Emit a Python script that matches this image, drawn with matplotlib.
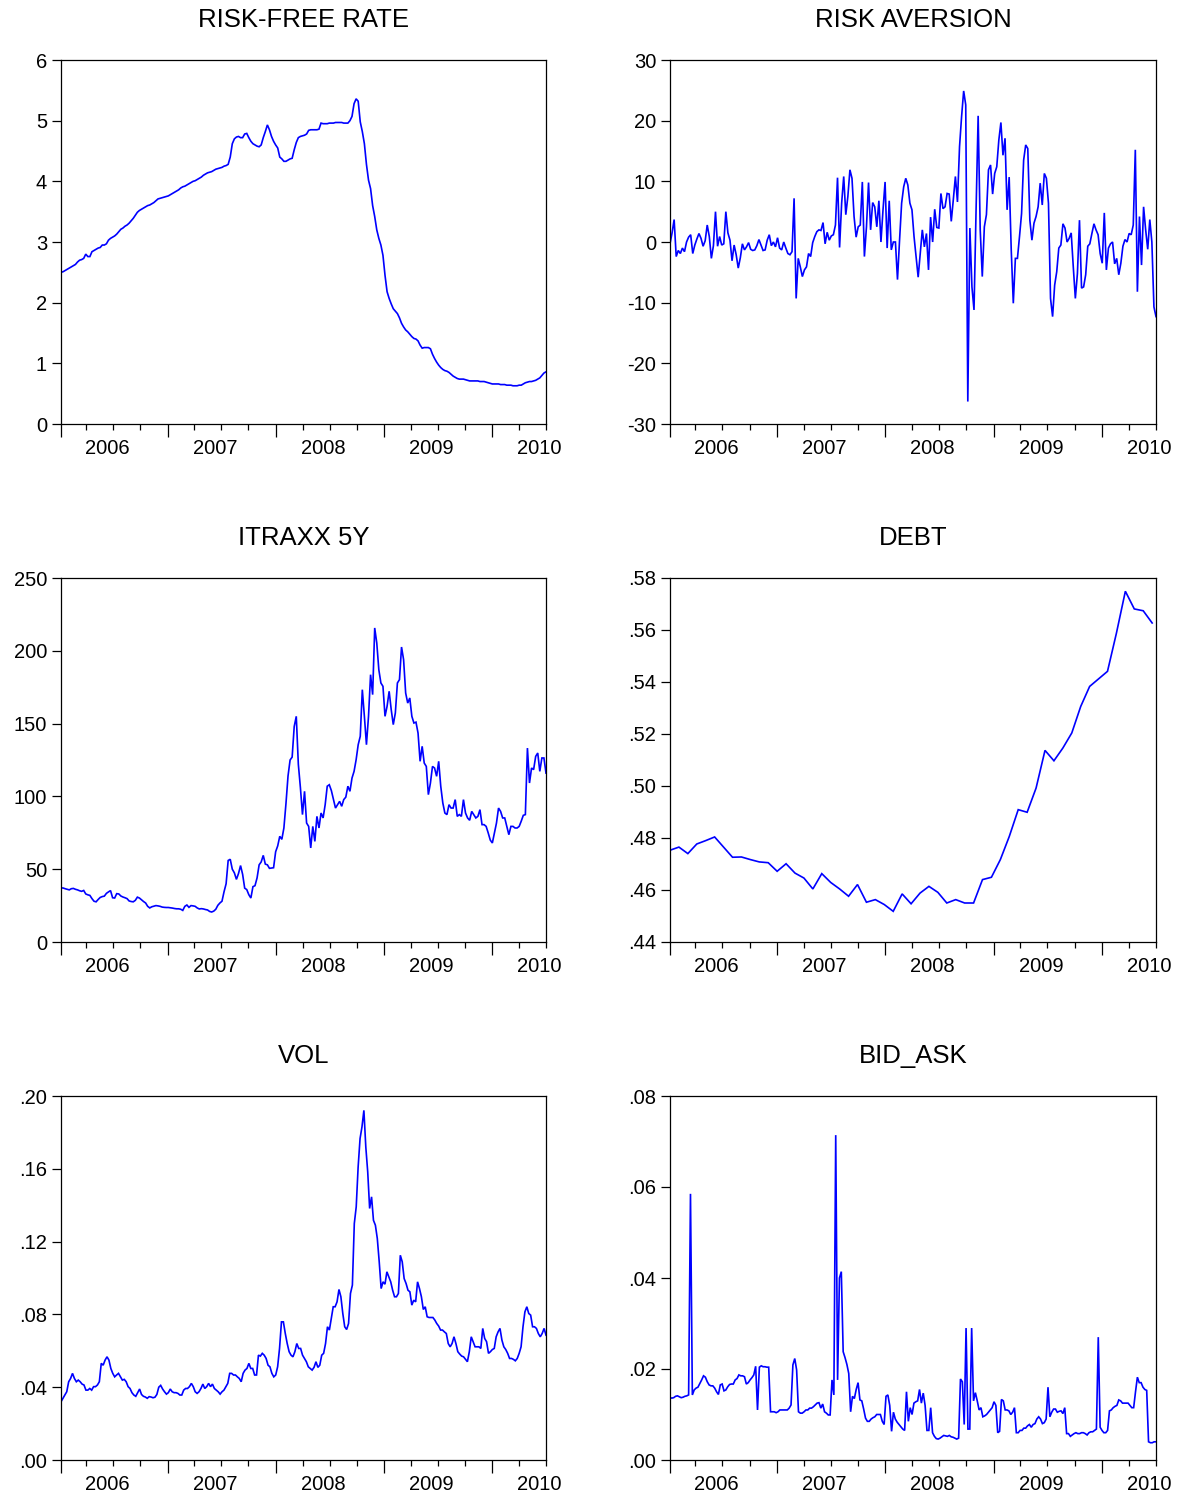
import numpy as np
import pandas as pd
import matplotlib
matplotlib.use("Agg")
import matplotlib.pyplot as plt
import matplotlib.dates as mdates
import matplotlib.transforms as mtrans
from matplotlib.ticker import FixedLocator, FuncFormatter, NullFormatter

plt.rcParams['font.family'] = ['Liberation Sans', 'DejaVu Sans']

# ---------------- data ----------------
START = '2006-01-06'
END = '2010-07-02'
DEBT_END = '2010-06-19'

risk_free = [
    2.50, 2.51, 2.53, 2.55, 2.57, 2.59, 2.61, 2.63, 2.67, 2.70, 2.71, 2.73, 2.80,
    2.76, 2.76, 2.84, 2.86, 2.88, 2.90, 2.91, 2.95, 2.95, 2.97, 3.03, 3.06, 3.08,
    3.10, 3.13, 3.17, 3.21, 3.23, 3.26, 3.28, 3.31, 3.35, 3.39, 3.44, 3.49, 3.52,
    3.54, 3.56, 3.58, 3.60, 3.61, 3.63, 3.65, 3.68, 3.71, 3.72, 3.73, 3.74, 3.75,
    3.76, 3.78, 3.80, 3.82, 3.84, 3.86, 3.89, 3.91, 3.92, 3.94, 3.96, 3.98, 4.00,
    4.01, 4.03, 4.05, 4.07, 4.10, 4.12, 4.14, 4.15, 4.16, 4.18, 4.20, 4.21, 4.22,
    4.23, 4.25, 4.26, 4.28, 4.40, 4.62, 4.70, 4.73, 4.74, 4.72, 4.72, 4.78, 4.79,
    4.72, 4.66, 4.62, 4.60, 4.58, 4.57, 4.60, 4.72, 4.82, 4.93, 4.85, 4.74, 4.66,
    4.60, 4.55, 4.40, 4.37, 4.33, 4.33, 4.35, 4.37, 4.38, 4.52, 4.64, 4.72, 4.74,
    4.75, 4.76, 4.78, 4.84, 4.85, 4.85, 4.85, 4.85, 4.86, 4.96, 4.95, 4.95, 4.95,
    4.96, 4.96, 4.96, 4.97, 4.97, 4.97, 4.97, 4.96, 4.96, 4.96, 5.00, 5.07, 5.28,
    5.36, 5.32, 4.98, 4.82, 4.62, 4.28, 4.02, 3.88, 3.60, 3.42, 3.20, 3.06, 2.95,
    2.78, 2.45, 2.18, 2.07, 1.98, 1.90, 1.86, 1.82, 1.75, 1.66, 1.60, 1.55, 1.52,
    1.48, 1.44, 1.41, 1.40, 1.37, 1.30, 1.25, 1.26, 1.26, 1.26, 1.24, 1.15, 1.08,
    1.02, 0.97, 0.93, 0.90, 0.88, 0.87, 0.85, 0.82, 0.79, 0.77, 0.75, 0.74, 0.74,
    0.74, 0.73, 0.72, 0.71, 0.71, 0.71, 0.71, 0.71, 0.70, 0.70, 0.70, 0.69, 0.68,
    0.67, 0.66, 0.66, 0.66, 0.66, 0.65, 0.65, 0.65, 0.64, 0.64, 0.64, 0.63, 0.63,
    0.63, 0.64, 0.64, 0.66, 0.68, 0.69, 0.70, 0.70, 0.71, 0.72, 0.74, 0.76, 0.80, 0.84, 0.86,
]

risk_aversion = [
    -0.3, 1.5, 3.7, -2.4, -1.4, -1.9, -1.0, -1.6, 0.0, 0.8,
    1.2, -1.9, -0.5, 0.5, 1.4, 0.6, -0.7, 0.2, 2.8, 0.9,
    -2.7, -0.6, 5.0, -0.7, 0.9, -0.5, -0.3, 5.0, 1.5, 0.3,
    -3.1, -0.5, -2.1, -4.3, -2.6, -0.3, -1.3, -0.8, -0.1, -1.2,
    -1.4, -1.3, -0.6, 0.4, -0.5, -1.4, -1.3, 0.3, 1.2, -0.6,
    0.0, -0.8, 0.7, -1.0, -1.3, 0.0, -1.0, -1.9, -2.1, -1.6,
    7.2, -9.3, -2.7, -4.1, -5.7, -4.6, -4.1, -1.9, -2.4, -0.1,
    0.9, 1.7, 2.0, 1.9, 3.2, -0.3, 1.6, 0.3, 1.0, 1.2,
    2.8, 10.6, -0.9, 6.4, 10.8, 4.5, 7.5, 11.9, 10.5, 4.2,
    0.8, 2.5, 2.8, 9.9, -2.4, 2.5, 9.8, 2.0, 6.5, 5.8,
    2.5, 6.8, 0.0, 5.3, 9.9, -1.0, 6.8, -1.3, 0.0, 0.0,
    -6.2, 0.3, 6.4, 9.1, 10.5, 9.4, 6.4, 5.3, 0.9, -2.4,
    -5.8, -1.9, 2.0, -0.8, 1.4, -4.6, 4.1, 0.0, 5.4, 2.4,
    2.3, 8.0, 5.5, 5.8, 8.0, 7.9, 3.4, 7.0, 10.8, 6.6,
    15.7, 20.7, 24.9, 22.6, -26.3, 2.3, -7.4, -11.2, 5.3, 20.8,
    2.0, -5.7, 2.5, 4.5, 11.9, 12.7, 7.9, 11.3, 12.4, 16.8,
    19.7, 14.3, 17.1, 5.3, 10.7, -1.3, -10.1, -2.7, -2.7, 0.9,
    4.7, 13.5, 16.0, 15.4, 3.6, 0.3, 3.1, 4.2, 5.8, 9.7,
    6.1, 11.3, 10.5, 6.4, -9.3, -12.3, -7.1, -4.9, -1.0, -0.5,
    3.0, 2.3, 0.0, 0.6, 1.5, -4.1, -9.3, -5.2, 3.6, -7.6,
    -7.4, -5.4, -0.7, -0.3, 1.4, 3.0, 2.0, 1.2, -1.9, -3.5,
    4.8, -4.6, -1.0, -0.3, 0.0, -3.6, -2.7, -5.4, -3.5, -0.7,
    0.4, 0.0, 1.4, 1.2, 2.8, 15.2, -8.2, 4.2, -3.8, 5.8,
    2.0, -1.2, 3.7, 0.0, -10.7, -12.3,
]

itraxx = [
    37.1, 37.1, 36.6, 36.2, 35.8, 36.6, 36.8, 36.2, 35.8, 35.2,
    34.8, 35.4, 33.0, 32.4, 32.0, 29.8, 28.0, 27.6, 29.2, 30.6,
    31.2, 31.5, 33.4, 34.4, 35.3, 30.4, 30.2, 33.2, 33.0, 31.6,
    30.9, 30.4, 29.8, 28.2, 27.8, 27.6, 28.6, 30.8, 30.2, 29.0,
    27.8, 26.8, 24.5, 23.4, 24.2, 24.6, 25.0, 24.8, 24.5, 24.0,
    23.8, 23.7, 23.7, 23.5, 23.3, 23.0, 22.8, 22.8, 22.5, 21.7,
    24.5, 25.4, 23.8, 25.0, 24.8, 24.5, 23.4, 22.7, 22.9, 22.7,
    22.3, 22.0, 21.0, 20.6, 21.2, 22.5, 25.2, 26.8, 28.0, 34.5,
    40.0, 56.0, 56.8, 50.0, 47.5, 43.0, 47.0, 52.5, 46.5, 37.0,
    36.0, 32.5, 30.2, 38.0, 38.7, 44.0, 53.0, 55.0, 59.5, 53.5,
    53.0, 50.6, 50.8, 51.0, 62.0, 66.0, 72.6, 70.5, 78.3, 95.0,
    114.0, 125.0, 127.0, 148.0, 155.0, 122.0, 106.0, 87.5, 103.5, 81.7,
    79.4, 64.6, 79.4, 69.1, 86.3, 78.3, 88.6, 85.2, 94.3, 107.0,
    108.0, 104.0, 98.0, 92.0, 94.3, 96.6, 93.2, 97.8, 99.5, 107.0,
    103.5, 112.6, 117.2, 125.2, 135.5, 141.3, 173.3, 155.0, 135.5, 155.0,
    183.6, 169.9, 215.7, 205.4, 187.0, 177.9, 175.6, 155.0, 161.9, 172.2,
    159.6, 149.3, 157.3, 177.9, 180.2, 202.6, 193.9, 171.0, 164.1, 167.6,
    155.0, 150.4, 151.0, 143.5, 124.1, 134.4, 122.9, 120.6, 101.2, 109.2,
    120.6, 119.5, 113.8, 124.1, 107.0, 95.5, 88.6, 87.5, 94.3, 92.0,
    92.0, 97.8, 86.3, 87.5, 86.3, 97.8, 88.6, 85.2, 83.6, 89.7,
    87.5, 85.2, 86.3, 90.9, 80.6, 80.6, 79.4, 74.9, 70.0, 68.0,
    74.9, 81.7, 92.0, 89.7, 85.2, 85.2, 79.4, 73.7, 79.4, 79.4,
    78.3, 78.3, 79.4, 83.0, 87.0, 87.5, 133.2, 109.2, 119.5, 118.4,
    127.5, 129.8, 117.2, 126.4, 126.4, 116.0,
]

debt = [
    .4753, .4765, .4740, .4777, .4790, .4804, .4765, .4726, .4727, .4717,
    .4708, .4705, .4672, .4701, .4665, .4646, .4604, .4663, .4629, .4604,
    .4576, .4621, .4553, .4563, .4544, .4518, .4585, .4547, .4588, .4614,
    .4591, .4550, .4563, .4550, .4550, .4640, .4649, .4717, .4806, .4909,
    .4899, .4992, .5137, .5097, .5146, .5204, .5306, .5383, .5412, .5441,
    .5588, .5749, .5681, .5674, .5627,
]

vol = [
    .0320, .0339, .0357, .0375, .0430, .0448, .0476, .0448, .0430, .0439,
    .0430, .0417, .0412, .0384, .0384, .0393, .0384, .0403, .0403, .0412,
    .0430, .0531, .0521, .0549, .0567, .0549, .0503, .0476, .0457, .0467,
    .0476, .0457, .0439, .0443, .0430, .0403, .0393, .0370, .0357, .0350,
    .0370, .0390, .0360, .0350, .0346, .0339, .0348, .0346, .0342, .0345,
    .0360, .0400, .0410, .0390, .0375, .0362, .0370, .0390, .0375, .0370,
    .0370, .0366, .0357, .0357, .0384, .0393, .0393, .0403, .0421, .0403,
    .0375, .0366, .0375, .0393, .0417, .0393, .0403, .0421, .0403, .0417,
    .0393, .0384, .0375, .0362, .0375, .0384, .0403, .0421, .0476, .0476,
    .0467, .0467, .0457, .0448, .0430, .0476, .0494, .0503, .0531, .0503,
    .0503, .0467, .0467, .0576, .0571, .0586, .0576, .0558, .0521, .0512,
    .0476, .0457, .0467, .0512, .0613, .0759, .0759, .0695, .0640, .0595,
    .0576, .0567, .0595, .0640, .0613, .0613, .0576, .0558, .0540, .0512,
    .0503, .0494, .0509, .0540, .0509, .0521, .0576, .0586, .0640, .0732,
    .0714, .0778, .0842, .0842, .0869, .0937, .0897, .0805, .0732, .0717,
    .0750, .0915, .0961, .1299, .1391, .1610, .1766, .1830, .1921, .1720,
    .1583, .1382, .1446, .1317, .1290, .1217, .1089, .0942, .0979, .0966,
    .1034, .1006, .0979, .0933, .0897, .0897, .0915, .1125, .1089, .0997,
    .0970, .0933, .0924, .0851, .0878, .0869, .0979, .0942, .0897, .0827,
    .0842, .0787, .0783, .0783, .0783, .0769, .0750, .0736, .0714, .0714,
    .0704, .0695, .0640, .0622, .0640, .0677, .0640, .0595, .0582, .0571,
    .0567, .0553, .0540, .0595, .0677, .0650, .0622, .0622, .0622, .0613,
    .0723, .0668, .0650, .0586, .0595, .0607, .0613, .0677, .0704, .0723,
    .0659, .0622, .0607, .0586, .0558, .0558, .0553, .0545, .0558, .0586,
    .0622, .0732, .0814, .0842, .0805, .0796, .0732, .0732, .0723, .0695,
    .0677, .0695, .0723, .0686,
]

bid_ask = [
    .0137, .0136, .0137, .0140, .0141, .0139, .0137, .0138, .0140, .0141, .0143,
    .0585, .0143,
    .0154, .0158, .0160, .0168, .0176, .0185, .0182, .0172, .0165, .0163, .0163,
    .0158, .0150, .0144, .0165, .0167, .0152, .0154, .0161, .0166, .0167, .0167,
    .0176, .0179, .0187, .0185, .0185, .0183, .0167, .0170, .0176, .0181, .0187,
    .0206, .0110, .0204, .0207, .0205, .0205, .0204, .0204,
    .0106, .0106, .0106, .0104, .0106, .0110, .0110, .0110, .0110, .0110, .0114, .0121,
    .0209, .0223, .0198,
    .0106, .0103, .0103, .0106, .0110, .0110, .0114, .0114, .0117, .0121, .0125, .0126,
    .0114, .0123, .0106, .0103, .0099, .0099, .0176, .0143,
    .0714, .0176, .0400, .0414, .0238, .0225, .0210, .0190, .0106, .0140, .0135, .0155,
    .0170, .0132, .0130, .0112, .0092, .0085, .0085, .0090, .0093, .0095, .0100, .0100,
    .0100, .0085, .0078, .0140, .0143, .0120, .0063, .0105, .0090, .0083, .0078, .0073,
    .0068, .0065, .0150, .0085, .0115, .0100, .0125, .0128, .0130, .0155, .0125, .0147,
    .0120, .0065, .0065, .0115, .0060, .0052, .0047, .0046, .0048, .0051, .0054, .0053,
    .0052, .0054, .0051, .0050, .0048, .0046, .0048, .0178, .0172, .0078, .0290, .0068,
    .0068, .0290, .0130, .0148, .0130, .0110, .0115, .0095, .0097, .0100, .0105, .0110,
    .0115, .0128, .0120, .0060, .0063, .0133, .0130, .0110, .0110, .0108, .0100, .0105,
    .0115, .0060, .0060, .0065, .0065, .0070, .0070, .0075, .0078, .0072, .0078, .0080,
    .0090, .0095, .0090, .0080, .0082, .0090, .0160, .0095, .0105, .0112, .0112, .0105,
    .0107, .0108, .0102, .0115, .0058, .0058, .0052, .0055, .0058, .0060, .0058, .0058,
    .0060, .0060, .0058, .0055, .0060, .0062, .0062, .0065, .0068, .0270, .0072, .0065,
    .0060, .0060, .0065, .0108, .0110, .0115, .0118, .0120, .0132, .0130, .0125, .0125,
    .0125, .0125, .0120, .0115, .0115, .0150, .0182, .0170, .0170, .0160, .0155, .0153,
    .0040, .0038, .0038, .0040, .0040,
]

titles = ['RISK-FREE RATE', 'RISK AVERSION', 'ITRAXX 5Y', 'DEBT', 'VOL', 'BID_ASK']
year_labels = ['2006', '2007', '2008', '2009', '2010']

y_limits = [(0, 6), (-30, 30), (0, 250), (0.44, 0.58), (0.0, 0.20), (0.0, 0.08)]
y_ticks = [
    [0, 1, 2, 3, 4, 5, 6],
    [-30, -20, -10, 0, 10, 20, 30],
    [0, 50, 100, 150, 200, 250],
    [.44, .46, .48, .50, .52, .54, .56, .58],
    [.00, .04, .08, .12, .16, .20],
    [.00, .02, .04, .06, .08],
]
y_fmt = ['int', 'int', 'int', 'dec', 'dec', 'dec']

series = [risk_free, risk_aversion, itraxx, debt, vol, bid_ask]
series_end = [END, END, END, DEBT_END, END, END]

# ---------------- figure ----------------
W, H = 1182, 1497
fig = plt.figure(figsize=(W / 100, H / 100), dpi=100)

# panel boxes in pixels (left, top, right, bottom)
boxes = [(61, 60, 546, 424), (670, 60, 1156, 424),
         (61, 578, 546, 942), (670, 578, 1156, 942),
         (61, 1096, 546, 1460), (670, 1096, 1156, 1460)]

LINE_COLOR = '#0000FF'
TICK_FS = 14.5
TITLE_FS = 18.5

x_start = mdates.date2num(pd.Timestamp(START))
x_end = mdates.date2num(pd.Timestamp(END))
major_pos = [x_start] + [mdates.date2num(pd.Timestamp(f'{y}-01-01')) for y in (2007, 2008, 2009, 2010)]
minor_pos = [mdates.date2num(pd.Timestamp(f'{y}-{m:02d}-01'))
             for y in (2006, 2007, 2008, 2009, 2010) for m in (4, 7, 10)]
minor_pos = [p for p in minor_pos if p <= x_end]
label_pos = [mdates.date2num(pd.Timestamp(f'{y}-01-01')) + 0.44 * 365 for y in year_labels]


def fmt_int(v, pos):
    return f'{int(round(v))}'


def fmt_dec(v, pos):
    s = f'{v:.2f}'
    if s.startswith('0'):
        s = s[1:]
    return s


for i, (vals, box) in enumerate(zip(series, boxes)):
    l, t, r, b = box
    ax = fig.add_axes([l / W, 1 - b / H, (r - l) / W, (b - t) / H])
    dates = pd.date_range(START, series_end[i], periods=len(vals))
    ax.plot(dates, vals, color=LINE_COLOR, lw=1.2, solid_joinstyle='miter')

    ax.set_xlim(x_start, x_end)
    ax.set_ylim(*y_limits[i])

    for sp in ax.spines.values():
        sp.set_linewidth(0.9)
        sp.set_color('black')

    ax.xaxis.set_major_locator(FixedLocator(major_pos))
    ax.xaxis.set_minor_locator(FixedLocator(minor_pos))
    ax.xaxis.set_major_formatter(NullFormatter())
    ax.xaxis.set_minor_formatter(NullFormatter())
    ax.tick_params(axis='x', which='major', direction='out', length=9, width=0.9,
                   top=False, bottom=True)
    ax.tick_params(axis='x', which='minor', direction='out', length=4.5, width=0.9,
                   top=False, bottom=True)

    ax.yaxis.set_major_locator(FixedLocator(y_ticks[i]))
    ax.yaxis.set_major_formatter(FuncFormatter(fmt_int if y_fmt[i] == 'int' else fmt_dec))
    ax.tick_params(axis='y', which='major', direction='out', length=6.5, width=0.9,
                   pad=3.5, labelsize=TICK_FS, left=True, right=False)

    trans = mtrans.blended_transform_factory(ax.transData, ax.transAxes)
    for lp, lab in zip(label_pos, year_labels):
        ax.text(lp, -30 / (b - t), lab, transform=trans, ha='center', va='baseline',
                fontsize=TICK_FS)

    ax.text(0.5, 1 + 33 / (b - t), titles[i], transform=ax.transAxes,
            ha='center', va='baseline', fontsize=TITLE_FS)

fig.savefig('out.png', dpi=100, facecolor='white')
